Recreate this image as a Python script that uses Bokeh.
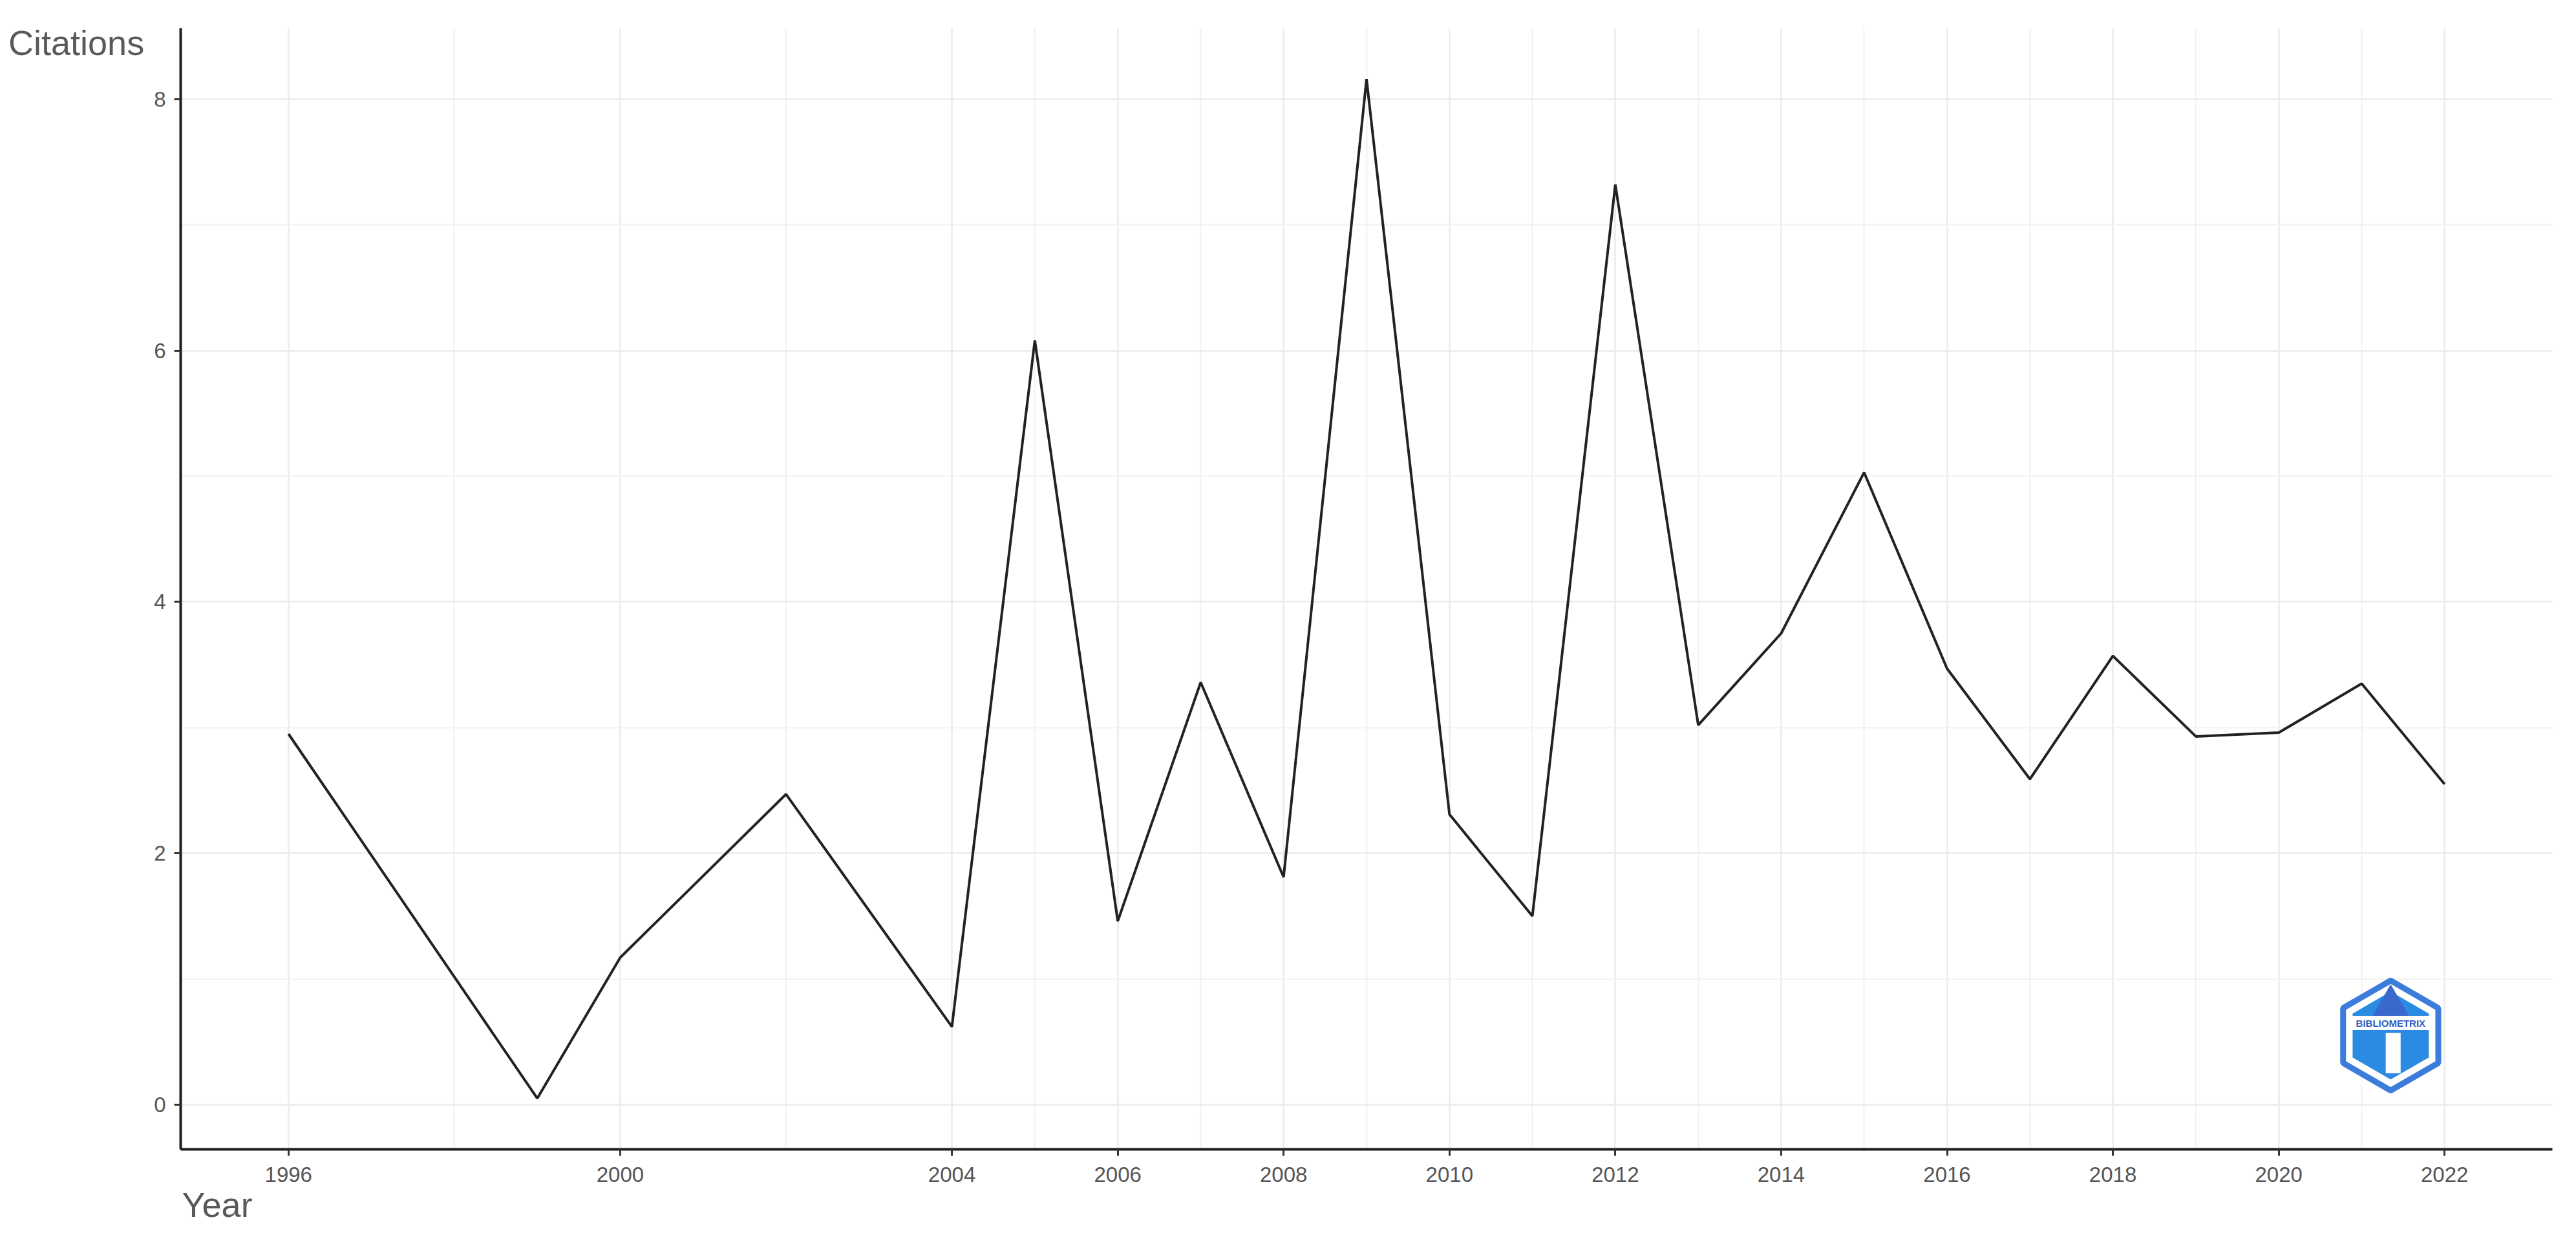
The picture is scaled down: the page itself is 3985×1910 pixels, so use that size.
from bokeh.plotting import figure
from bokeh.models import Range1d, FixedTicker, Title
from bokeh.embed import file_html
from bokeh.resources import INLINE
from bokeh.core.properties import value

# ---- data ----
years = [1996, 1999, 2000, 2002, 2004, 2005, 2006, 2007, 2008, 2009, 2010,
         2011, 2012, 2013, 2014, 2015, 2016, 2017, 2018, 2019, 2020, 2021, 2022]
citations = [2.95, 0.05, 1.17, 2.47, 0.62, 6.08, 1.46, 3.36, 1.81, 8.16, 2.31,
             1.50, 7.32, 3.02, 3.75, 5.03, 3.47, 2.59, 3.57, 2.93, 2.96, 3.35, 2.55]

x_tick_years = [1996, 2000, 2004, 2006, 2008, 2010, 2012, 2014, 2016, 2018, 2020, 2022]
x_minor_years = [1998, 2002, 2005, 2007, 2009, 2011, 2013, 2015, 2017, 2019, 2021]
y_ticks = [0, 2, 4, 6, 8]
y_minor = [1, 3, 5, 7]

x_title = "Year"
y_title = "Citations"
logo_text = "BIBLIOMETRIX"

FONT = "Liberation Sans"

# ggplot-like 5% expansion
xr = max(years) - min(years)
yr = max(citations) - min(citations)

p = figure(width=3968, height=1892, output_backend="svg", toolbar_location=None,
           x_range=Range1d(min(years) - 0.05 * xr, max(years) + 0.05 * xr),
           y_range=Range1d(min(citations) - 0.05 * yr, max(citations) + 0.05 * yr),
           min_border_left=279, min_border_right=20, min_border_top=43,
           min_border_bottom=20)
p.outline_line_color = None
p.background_fill_color = "white"
p.border_fill_color = "white"

p.xaxis.ticker = FixedTicker(ticks=x_tick_years, minor_ticks=x_minor_years)
p.yaxis.ticker = FixedTicker(ticks=y_ticks, minor_ticks=y_minor)

for ax in (p.xaxis, p.yaxis):
    ax.axis_line_width = 4
    ax.axis_line_color = "#1e1e1e"
    ax.major_tick_line_color = "#333333"
    ax.major_tick_line_width = 3
    ax.major_tick_out = 10
    ax.major_tick_in = 0
    ax.minor_tick_out = 0
    ax.minor_tick_in = 0
    ax.major_label_text_font = FONT
    ax.major_label_text_font_size = "33px"
    ax.major_label_text_color = "#555555"
    ax.axis_label_text_font = FONT
    ax.axis_label_text_font_size = "54px"
    ax.axis_label_text_color = "#595959"
    ax.axis_label_text_font_style = "normal"

p.xaxis.major_label_standoff = 17
p.yaxis.major_label_standoff = 13

# y title sits beside the top of the axis, as in the reference
p.yaxis.axis_label = "\n" + y_title
p.yaxis.axis_label_orientation = "horizontal"
p.yaxis.axis_label_align = "end"
p.yaxis.axis_label_text_line_height = 0.75
p.yaxis.axis_label_standoff = 12

# x title at the lower-left corner
p.add_layout(Title(text=x_title, align="left", standoff=0, offset=2,
                   text_font=FONT, text_font_size="54px",
                   text_font_style="normal", text_color="#595959"), "below")

for g in (p.xgrid, p.ygrid):
    g.grid_line_color = "#ebebeb"
    g.grid_line_width = 2.5
    g.minor_grid_line_color = "#f1f1f1"
    g.minor_grid_line_width = 2

p.line(years, citations, line_color="#222222", line_width=4)

# bibliometrix watermark logo
LOGO_X, LOGO_Y = 2021.35, 0.55
p.scatter([LOGO_X], [LOGO_Y], marker="hex", angle=1.5708, size=170,
          fill_color="white", line_color="#3c7ddb", line_width=9)
p.scatter([LOGO_X], [LOGO_Y], marker="hex", angle=1.5708, size=136,
          fill_color="#2b8ae2", line_color=None)
p.scatter([LOGO_X], [LOGO_Y + 0.2], marker="triangle", size=70,
          fill_color="#3a68cc", line_color=None)
p.rect([LOGO_X], [LOGO_Y + 0.1], width=124, height=22, width_units="screen",
       height_units="screen", fill_color="white", line_color=None)
p.text([LOGO_X], [LOGO_Y + 0.1], text=[logo_text], text_font=value(FONT),
       text_font_size="15px", text_font_style="bold", text_color="#2f5cbf",
       text_align="center", text_baseline="middle")
p.quad(left=[LOGO_X - 0.06], right=[LOGO_X + 0.12], bottom=[LOGO_Y - 0.3],
       top=[LOGO_Y + 0.02], fill_color="white", line_color=None)

open("out.html", "w").write(file_html(p, INLINE))
